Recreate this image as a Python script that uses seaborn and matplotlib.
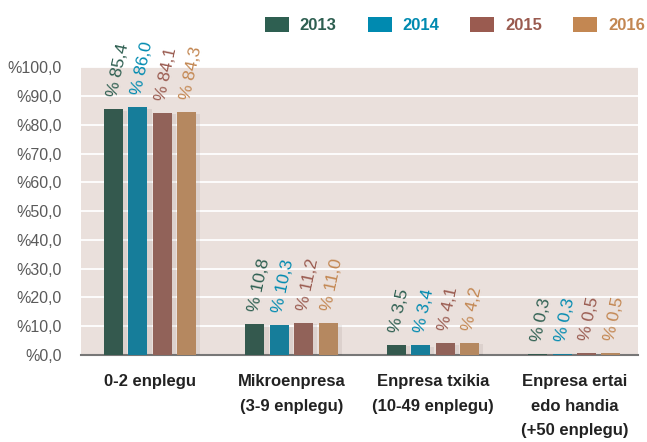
import numpy as np
import pandas as pd
import matplotlib
matplotlib.use("Agg")
import matplotlib.pyplot as plt
import matplotlib.patches as mpatches
import matplotlib.patheffects as pe
import seaborn as sns

# Data
categories = ['0-2 enplegu', 'Mikroenpresa\n(3-9 enplegu)',
              'Enpresa txikia\n(10-49 enplegu)',
              'Enpresa ertai\nedo handia\n(+50 enplegu)']
years = ['2013', '2014', '2015', '2016']
v2013 = [85.4, 10.8, 3.5, 0.3]
v2014 = [86.0, 10.3, 3.4, 0.3]
v2015 = [84.1, 11.2, 4.1, 0.5]
v2016 = [84.3, 11.0, 4.2, 0.5]
yticks = [0, 10, 20, 30, 40, 50, 60, 70, 80, 90, 100]

colors = ['#2E5F51', '#008AB0', '#9A5B50', '#C38752']

rows = []
for yr, vals in zip(years, [v2013, v2014, v2015, v2016]):
    for cat, v in zip(categories, vals):
        rows.append({'cat': cat, 'year': yr, 'value': v})
df = pd.DataFrame(rows)

sns.set_theme(style='white')
plt.rcParams['font.family'] = ['Liberation Sans', 'DejaVu Sans']

fig = plt.figure(figsize=(6.47, 4.42), dpi=100)
ax = fig.add_axes([0.125, 0.197, 0.861, 0.651])

ax = sns.barplot(data=df, x='cat', y='value', hue='year', palette=colors,
                 width=0.69, gap=0.22, legend=False, ax=ax, zorder=3,
                 edgecolor='none', linewidth=0)

# soft shadow behind bars
for p in ax.patches:
    p.set_path_effects([pe.SimplePatchShadow(offset=(3, -1), alpha=0.08,
                                             shadow_rgbFace='#3a2a25'),
                        pe.Normal()])

# rotated value labels
for cont, col in zip(ax.containers, colors):
    for bar in cont:
        h = bar.get_height()
        txt = '% ' + f'{h:.1f}'.replace('.', ',')
        ax.annotate(txt, (bar.get_x() + bar.get_width() / 2, h),
                    xytext=(-1, 9), textcoords='offset points',
                    rotation=78, rotation_mode='anchor',
                    ha='left', va='center', color=col, fontsize=12.5)

ax.set_facecolor('#EAE0DC')
ax.set_ylim(0, 100)
ax.set_xlim(-0.49, 3.45)
ax.set_yticks(yticks)
ax.set_yticklabels(['%' + f'{v:.1f}'.replace('.', ',') for v in yticks],
                   color='#5a5a5a', fontsize=11.5)
ax.yaxis.grid(True, color='white', linewidth=1.3, zorder=0)
ax.set_axisbelow(True)
ax.tick_params(axis='y', length=0, pad=14)
ax.set_xticks(range(len(categories)))
ax.set_xticklabels(categories, fontsize=12, fontweight='bold',
                   color='#222222', linespacing=1.78, va='top')
ax.tick_params(axis='x', length=0, pad=14)
ax.set_xlabel('')
ax.set_ylabel('')
for s in ['top', 'right', 'left']:
    ax.spines[s].set_visible(False)
ax.spines['bottom'].set_color('#777777')
ax.spines['bottom'].set_linewidth(1.5)

handles = [mpatches.Patch(facecolor=c, edgecolor='none') for c in colors]
fig.legend(handles, years, loc='center', bbox_to_anchor=(0.703, 0.943),
           ncol=4, frameon=False, labelcolor=colors,
           prop={'weight': 'bold', 'size': 12},
           handlelength=1.45, handleheight=1.0, handletextpad=0.65,
           columnspacing=1.85)

fig.savefig('out.png', dpi=100)
